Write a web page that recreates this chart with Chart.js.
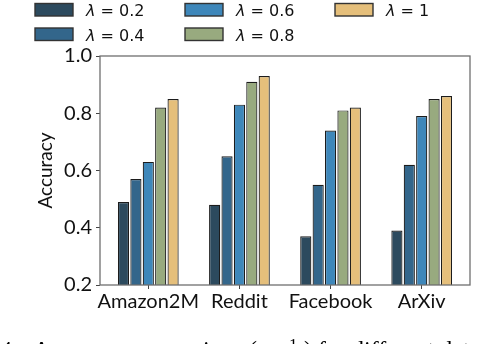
<!DOCTYPE html>
<html>
<head>
<meta charset="utf-8">
<script src="https://cdn.jsdelivr.net/npm/chart.js@4"></script>
<style>
  html, body { margin: 0; padding: 0; background: #fff; overflow: hidden; }
  #wrap { width: 502px; height: 344px; }
</style>
</head>
<body>
<div id="wrap"><canvas id="accuracy_chart" width="502" height="344"></canvas></div>
<script>
// data
const datasetsNames = ["Amazon2M", "Reddit", "Facebook", "ArXiv"];
const lambdas = ["0.2", "0.4", "0.6", "0.8", "1"];
const acc02 = [0.49, 0.48, 0.37, 0.39];
const acc04 = [0.57, 0.65, 0.55, 0.62];
const acc06 = [0.63, 0.83, 0.74, 0.79];
const acc08 = [0.82, 0.91, 0.81, 0.85];
const acc10 = [0.85, 0.93, 0.82, 0.86];
const yTicks = [0.2, 0.4, 0.6, 0.8, 1.0];

const barColors = ["#2c4a5e", "#33668b", "#3e87ba", "#98aa7f", "#e5bf7b"];
const series = [acc02, acc04, acc06, acc08, acc10];

let ctx = document.querySelector('#accuracy_chart');

// box around the plot + legend in 3 columns (column-major, like matplotlib)
const framePlugin = {
  id: 'frame',
  afterDraw(chart) {
    const c = chart.ctx;
    const a = chart.chartArea;
    c.save();
    c.strokeStyle = "#6f6f6f";
    c.lineWidth = 1.3;
    c.strokeRect(a.left, a.top, a.right - a.left, a.bottom - a.top);

    // legend
    chart.data.datasets.forEach((ds, i) => {
      const col = Math.floor(i / 2), row = i % 2;
      const bx = 35 + col * 150, by = 3.5 + row * 24.5;
      c.fillStyle = ds.backgroundColor;
      c.fillRect(bx, by, 38, 12.5);
      c.strokeStyle = "#333";
      c.lineWidth = 1.4;
      c.strokeRect(bx, by, 38, 12.5);
      c.fillStyle = "#111";
      c.textBaseline = "alphabetic";
      c.font = "italic 16px 'DejaVu Sans'";
      const tx = bx + 51, ty = by + 12.5;
      c.fillText("λ", tx, ty);
      const w = c.measureText("λ").width;
      c.font = "16px 'DejaVu Sans'";
      c.fillText(" = " + lambdas[i], tx + w, ty);
    });

    // caption, mostly cut off by the bottom edge
    c.fillStyle = "#000";
    c.font = "24px 'Liberation Serif'";
    const base = 357;
    c.fillText("4.", 0, base);
    let x = 33;
    const part1 = "Accuracy comparison (α = ";
    c.fillText(part1, x, base);
    x += c.measureText(part1).width - 6;
    c.font = "17px 'Liberation Serif'";
    c.fillText("1", x, base - 7);
    x += 15;
    c.font = "24px 'Liberation Serif'";
    c.fillText(") for different datasets", x, base);
    c.restore();
  }
};

new Chart(ctx, {
  type: "bar",
  data: {
    datasets: series.map((vals, i) => ({
      label: "λ = " + lambdas[i],
      data: vals.map((v, j) => ({ x: j, y: v })),
      backgroundColor: barColors[i],
      borderColor: "#1c1c1c",
      borderWidth: 1.2,
      barPercentage: 0.9,
      categoryPercentage: 0.68
    }))
  },
  options: {
    responsive: false,
    animation: false,
    layout: { padding: { left: 0, right: 32, top: 56, bottom: 0 } },
    plugins: {
      legend: { display: false },
      tooltip: { enabled: false }
    },
    scales: {
      x: {
        type: "linear",
        offset: false,
        min: -0.53,
        max: 3.53,
        afterFit: s => { s.height = 59; },
        border: { display: false },
        grid: { offset: false, drawOnChartArea: false, drawTicks: true, tickLength: 4, color: "#444", lineWidth: 1 },
        ticks: {
          stepSize: 1,
          includeBounds: false,
          autoSkip: false,
          maxRotation: 0,
          padding: 1,
          color: "#111",
          font: { family: "Lato", size: 20 },
          callback: v => Number.isInteger(v) ? datasetsNames[v] : ""
        }
      },
      y: {
        min: 0.2,
        max: 1.0,
        afterFit: s => { s.width = 100; },
        afterBuildTicks: s => { s.ticks = yTicks.map(v => ({ value: v })); },
        border: { display: false },
        grid: { drawOnChartArea: false, drawTicks: true, tickLength: 4, color: "#444", lineWidth: 1 },
        ticks: {
          padding: 4,
          color: "#111",
          font: { family: "Lato", size: 20 },
          callback: v => v.toFixed(1)
        },
        title: {
          display: true,
          text: "Accuracy",
          color: "#111",
          font: { family: "Lato", size: 19 },
          padding: { top: 34, bottom: 0 }
        }
      }
    }
  },
  plugins: [framePlugin]
});
</script>
</body>
</html>
